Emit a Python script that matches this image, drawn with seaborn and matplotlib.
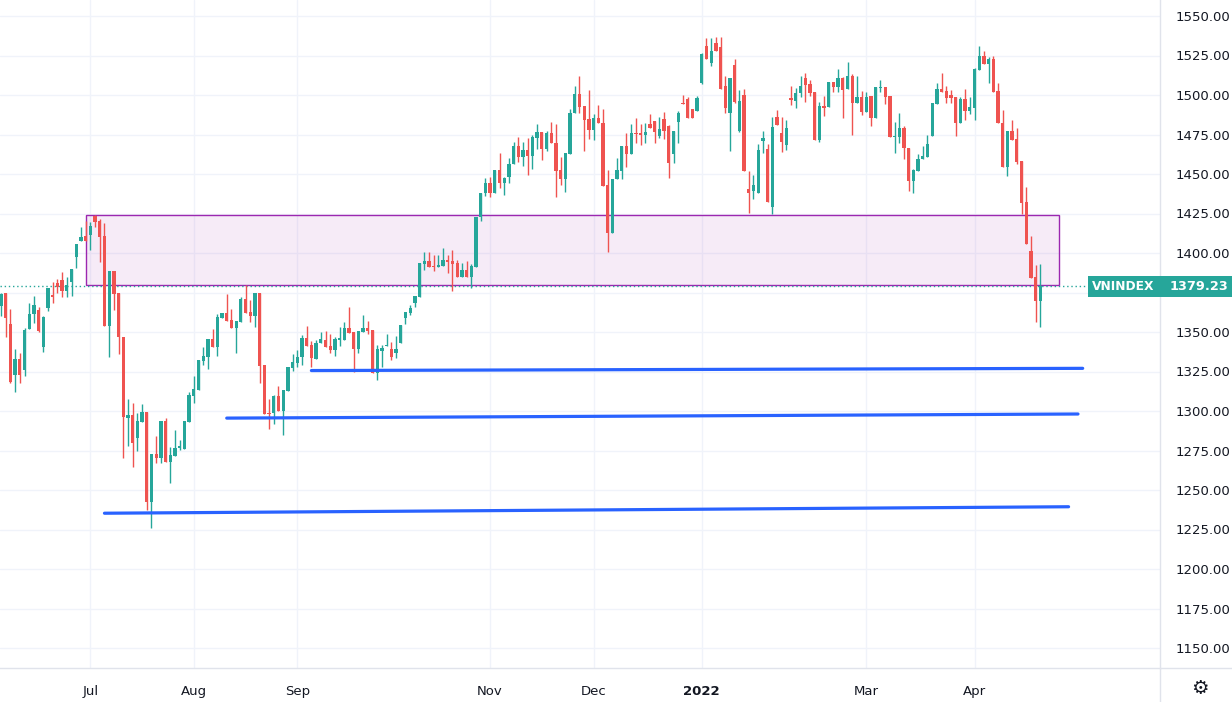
import numpy as np
import pandas as pd
import matplotlib
matplotlib.use("Agg")
import matplotlib.pyplot as plt
import seaborn as sns
from matplotlib.patches import Rectangle

# ---------------- data ----------------
opens = [1366.4, 1374.4, 1355.0, 1323.0, 1332.9, 1325.9, 1352.1, 1361.1, 1363.9, 1340.7,
         1365.4, 1373.4, 1380.8, 1382.9, 1376.1, 1381.8, 1397.6, 1407.6, 1410.7, 1411.6,
         1423.4, 1420.4, 1410.7, 1354.0, 1388.6, 1374.6, 1347.0, 1295.3, 1297.4, 1282.7,
         1293.2, 1299.3, 1242.6, 1272.8, 1270.0, 1293.6, 1268.0, 1271.5, 1276.3, 1276.0,
         1293.2, 1309.7, 1313.3, 1331.9, 1334.4, 1345.6, 1340.7, 1359.0, 1362.2, 1357.6,
         1352.7, 1356.5, 1370.9, 1362.4, 1360.3, 1374.5, 1329.1, 1299.0, 1298.5, 1309.5,
         1300.2, 1312.9, 1327.4, 1330.6, 1333.9, 1346.0, 1341.8, 1332.7, 1343.2, 1344.9,
         1341.1, 1338.6, 1344.9, 1344.9, 1352.3, 1350.0, 1339.5, 1350.2, 1352.7, 1351.3,
         1324.3, 1338.2, 1341.1, 1339.2, 1336.9, 1343.2, 1358.7, 1361.8, 1368.1, 1372.4,
         1393.1, 1394.9, 1391.8, 1391.3, 1391.8, 1395.6, 1395.1, 1393.9, 1384.6, 1389.2,
         1385.0, 1391.4, 1422.6, 1437.7, 1444.1, 1438.2, 1452.5, 1444.1, 1447.9, 1456.3,
         1467.7, 1461.0, 1465.2, 1461.4, 1473.0, 1476.8, 1465.8, 1476.2, 1469.4, 1452.5,
         1447.1, 1462.6, 1488.4, 1500.6, 1493.0, 1484.6, 1477.9, 1485.2, 1482.1, 1443.0,
         1412.9, 1446.8, 1452.1, 1467.7, 1462.7, 1476.1, 1475.7, 1474.7, 1481.6, 1483.5,
         1474.2, 1484.6, 1480.4, 1462.4, 1483.1, 1495.1, 1497.5, 1491.1, 1490.1, 1507.8,
         1531.0, 1520.0, 1533.1, 1530.6, 1505.7, 1488.8, 1519.0, 1477.4, 1500.0, 1440.3,
         1439.4, 1438.2, 1471.1, 1465.8, 1429.3, 1485.9, 1476.2, 1468.4, 1497.9, 1496.4,
         1501.1, 1510.5, 1507.0, 1501.7, 1471.5, 1493.0, 1492.2, 1508.0, 1504.9, 1510.5,
         1503.6, 1512.0, 1494.7, 1498.5, 1489.5, 1499.4, 1485.2, 1504.7, 1504.9, 1499.4,
         1473.2, 1473.2, 1478.9, 1466.2, 1445.8, 1452.1, 1459.3, 1461.0, 1474.0, 1494.3,
         1503.6, 1502.5, 1500.0, 1498.5, 1482.5, 1497.2, 1490.1, 1492.0, 1515.8, 1524.7,
         1519.6, 1522.8, 1502.5, 1482.5, 1454.6, 1477.4, 1472.1, 1458.2, 1432.3, 1401.3,
         1384.6, 1369.8]
highs = [1374.5, 1374.9, 1364.5, 1339.2, 1336.5, 1352.7, 1368.1, 1372.7, 1366.0, 1360.0,
         1378.0, 1381.8, 1383.3, 1387.9, 1384.6, 1389.8, 1405.7, 1416.6, 1420.4, 1419.8,
         1424.0, 1421.5, 1418.7, 1388.6, 1388.6, 1374.6, 1347.0, 1307.6, 1304.8, 1298.5,
         1304.4, 1299.3, 1272.8, 1284.2, 1293.6, 1295.3, 1277.4, 1288.0, 1281.6, 1293.7,
         1312.2, 1322.1, 1332.3, 1340.7, 1345.6, 1351.9, 1361.4, 1362.2, 1374.0, 1364.3,
         1357.2, 1372.4, 1379.7, 1370.3, 1374.5, 1374.5, 1329.1, 1307.6, 1310.1, 1315.8,
         1313.3, 1328.1, 1335.9, 1338.6, 1348.1, 1353.8, 1344.3, 1344.9, 1350.0, 1350.6,
         1348.7, 1347.0, 1353.0, 1356.5, 1365.6, 1350.0, 1350.6, 1360.8, 1357.0, 1351.3,
         1341.8, 1341.8, 1348.7, 1343.5, 1347.5, 1354.4, 1362.5, 1367.1, 1372.8, 1393.9,
         1400.8, 1400.8, 1398.7, 1398.7, 1403.0, 1398.7, 1401.9, 1395.6, 1393.9, 1395.1,
         1393.0, 1422.6, 1437.7, 1447.7, 1448.3, 1452.5, 1463.1, 1448.3, 1459.9, 1470.5,
         1473.6, 1470.5, 1472.6, 1474.7, 1481.6, 1476.8, 1477.2, 1483.1, 1481.6, 1460.5,
         1463.1, 1490.9, 1505.7, 1512.0, 1493.0, 1503.2, 1488.0, 1493.7, 1490.9, 1452.5,
         1446.8, 1459.9, 1467.7, 1475.7, 1481.6, 1485.2, 1481.6, 1482.0, 1488.0, 1483.5,
         1485.9, 1489.0, 1481.0, 1477.2, 1489.9, 1500.0, 1499.0, 1491.1, 1499.4, 1526.8,
         1535.9, 1535.9, 1536.5, 1536.9, 1512.0, 1510.5, 1522.6, 1503.2, 1503.6, 1452.1,
         1449.4, 1469.0, 1477.2, 1469.0, 1485.9, 1490.5, 1486.3, 1484.2, 1505.7, 1504.2,
         1512.0, 1514.1, 1509.5, 1501.7, 1495.8, 1499.4, 1508.0, 1508.0, 1516.2, 1511.6,
         1521.1, 1513.3, 1512.0, 1502.5, 1501.7, 1499.4, 1504.9, 1509.5, 1504.9, 1499.4,
         1483.1, 1488.8, 1480.4, 1466.2, 1453.0, 1462.6, 1467.7, 1474.7, 1494.7, 1507.8,
         1514.1, 1505.7, 1503.2, 1498.5, 1498.5, 1503.6, 1498.5, 1517.3, 1531.0, 1527.8,
         1523.8, 1524.7, 1507.8, 1490.5, 1477.4, 1484.2, 1479.3, 1458.2, 1442.0, 1410.8,
         1392.4, 1393.0]
lows = [1360.0, 1347.0, 1318.0, 1312.2, 1317.5, 1322.3, 1352.0, 1355.4, 1350.0, 1337.5,
        1363.5, 1368.1, 1374.9, 1372.3, 1372.3, 1373.0, 1390.7, 1407.6, 1407.8, 1401.9,
        1416.2, 1394.5, 1354.0, 1334.3, 1363.9, 1335.8, 1270.0, 1278.0, 1264.7, 1274.8,
        1293.2, 1237.3, 1225.7, 1266.8, 1266.8, 1268.0, 1254.6, 1271.5, 1275.3, 1276.0,
        1293.2, 1304.9, 1313.3, 1329.1, 1326.8, 1340.7, 1334.8, 1359.0, 1357.2, 1352.7,
        1336.9, 1356.5, 1362.2, 1356.1, 1353.0, 1317.5, 1298.1, 1288.6, 1291.8, 1300.2,
        1285.0, 1312.9, 1325.5, 1328.0, 1329.1, 1341.1, 1328.0, 1332.7, 1343.2, 1340.7,
        1336.9, 1334.8, 1341.1, 1344.9, 1349.1, 1325.0, 1337.0, 1350.2, 1348.5, 1324.3,
        1319.6, 1328.1, 1341.1, 1332.3, 1333.3, 1343.2, 1355.0, 1360.8, 1366.0, 1372.4,
        1389.2, 1391.4, 1388.8, 1390.9, 1391.8, 1387.1, 1376.2, 1384.6, 1384.6, 1385.0,
        1377.6, 1391.4, 1420.5, 1436.1, 1435.7, 1438.2, 1440.9, 1436.7, 1444.5, 1456.3,
        1457.8, 1455.1, 1449.4, 1453.4, 1465.6, 1458.9, 1464.8, 1469.4, 1435.2, 1443.0,
        1438.8, 1462.6, 1488.4, 1488.8, 1464.8, 1472.0, 1471.5, 1482.1, 1442.6, 1400.8,
        1412.9, 1446.8, 1446.6, 1454.2, 1462.7, 1469.4, 1468.4, 1469.4, 1479.3, 1469.4,
        1472.6, 1471.9, 1447.3, 1456.7, 1469.8, 1494.1, 1485.7, 1485.2, 1490.1, 1507.0,
        1522.6, 1518.4, 1528.1, 1503.6, 1488.8, 1464.8, 1495.2, 1476.8, 1452.1, 1425.1,
        1434.0, 1438.2, 1463.5, 1432.5, 1424.7, 1481.0, 1464.1, 1465.2, 1493.7, 1492.0,
        1498.5, 1495.8, 1499.4, 1471.5, 1470.5, 1486.7, 1492.2, 1501.7, 1501.7, 1485.2,
        1503.6, 1474.7, 1494.7, 1487.3, 1489.5, 1480.4, 1485.2, 1501.7, 1494.1, 1473.2,
        1463.1, 1469.4, 1459.3, 1439.4, 1437.8, 1452.1, 1459.3, 1461.0, 1474.0, 1494.3,
        1502.1, 1495.1, 1494.7, 1474.0, 1482.5, 1484.2, 1488.0, 1484.2, 1515.8, 1519.6,
        1507.8, 1502.1, 1482.1, 1454.6, 1448.7, 1471.5, 1456.3, 1424.7, 1405.7, 1384.4,
        1356.5, 1352.9]
closes = [1374.0, 1358.6, 1318.5, 1332.9, 1323.0, 1351.2, 1361.4, 1367.1, 1350.8, 1359.7,
          1377.8, 1372.3, 1378.7, 1376.1, 1379.7, 1389.8, 1405.7, 1409.9, 1407.8, 1417.0,
          1419.8, 1410.3, 1354.0, 1388.6, 1374.2, 1346.6, 1296.0, 1297.4, 1279.5, 1293.8,
          1299.3, 1242.6, 1272.8, 1270.0, 1293.6, 1268.0, 1272.1, 1276.3, 1278.0, 1293.7,
          1310.1, 1313.9, 1332.3, 1334.8, 1345.6, 1340.7, 1359.7, 1362.2, 1357.2, 1352.7,
          1357.2, 1370.9, 1362.2, 1360.3, 1374.5, 1328.5, 1298.1, 1298.1, 1309.5, 1300.2,
          1313.3, 1328.1, 1331.2, 1333.9, 1346.0, 1341.1, 1333.3, 1343.2, 1345.4, 1340.7,
          1338.6, 1345.6, 1345.9, 1352.3, 1349.1, 1339.5, 1350.6, 1352.3, 1350.9, 1324.3,
          1339.0, 1339.7, 1341.8, 1334.4, 1339.0, 1354.4, 1362.5, 1365.4, 1372.8, 1393.9,
          1394.9, 1391.4, 1391.4, 1392.4, 1395.6, 1394.5, 1393.0, 1384.6, 1389.2, 1385.0,
          1391.8, 1422.6, 1437.7, 1444.1, 1438.2, 1452.5, 1444.1, 1447.7, 1456.3, 1467.7,
          1461.0, 1465.2, 1461.4, 1473.2, 1476.8, 1465.8, 1476.2, 1469.4, 1452.1, 1447.1,
          1463.1, 1488.4, 1500.6, 1492.6, 1484.2, 1477.9, 1485.2, 1482.1, 1442.6, 1412.9,
          1446.8, 1452.5, 1467.7, 1462.7, 1475.7, 1475.3, 1474.7, 1476.8, 1479.3, 1476.8,
          1478.3, 1477.4, 1456.7, 1477.2, 1488.8, 1494.1, 1485.7, 1485.2, 1497.9, 1525.9,
          1522.6, 1528.1, 1528.1, 1503.6, 1492.0, 1510.5, 1495.8, 1496.2, 1452.1, 1438.2,
          1443.0, 1465.2, 1472.9, 1432.5, 1479.5, 1481.0, 1470.5, 1478.9, 1496.8, 1501.5,
          1505.7, 1506.3, 1501.5, 1471.5, 1493.0, 1492.0, 1508.0, 1504.9, 1510.5, 1503.2,
          1512.0, 1494.7, 1498.5, 1489.5, 1498.5, 1485.2, 1504.9, 1505.3, 1498.9, 1473.2,
          1473.6, 1478.9, 1466.2, 1445.8, 1452.5, 1459.7, 1461.4, 1469.0, 1494.7, 1503.6,
          1502.1, 1497.9, 1498.3, 1482.5, 1497.2, 1490.1, 1492.2, 1516.2, 1524.7, 1519.6,
          1522.8, 1502.1, 1482.1, 1454.6, 1477.4, 1471.5, 1457.8, 1431.9, 1405.7, 1384.4,
          1369.8, 1379.23]

symbol = "VNINDEX"
last_price = 1379.23
month_labels = ["Jul", "Aug", "Sep", "Nov", "Dec", "2022", "Mar", "Apr"]
month_bars = [19, 41, 63, 104, 126, 149, 184, 207]
price_ticks = [1150, 1175, 1200, 1225, 1250, 1275, 1300, 1325, 1350, 1375,
               1400, 1425, 1450, 1475, 1500, 1525, 1550]
hidden_tick = 1375  # covered by the last-price label in the reference

zone_bars = [18, 225]
zone_prices = [1380.0, 1424.0]

support_start_bar = [66, 48, 22]
support_end_bar = [230, 229, 227]
support_start_price = [1325.6, 1295.5, 1235.3]
support_end_price = [1327.0, 1298.1, 1239.4]

# ---------------- style ----------------
UP = "#26a69a"
DOWN = "#ef5350"
GRID = "#f0f3fa"
SEP = "#e0e3eb"
TEXT = "#131722"

sns.set_theme(style="white")
plt.rcParams["font.family"] = ["DejaVu Sans"]

W, H = 1232, 702
fig = plt.figure(figsize=(W / 100, H / 100), dpi=100)
fig.patch.set_facecolor("white")
ax = fig.add_axes([0, 34 / H, 1160 / W, 668 / H])
ax.set_facecolor("white")

df = pd.DataFrame({"open": opens, "high": highs, "low": lows, "close": closes})
df["bar"] = np.arange(len(df))
df["up"] = df["close"] >= df["open"]
df["color"] = np.where(df["up"], UP, DOWN)
df["body_low"] = df[["open", "close"]].min(axis=1)
df["body_h"] = (df["close"] - df["open"]).abs().clip(lower=0.6)

# zone rectangle
ax.add_patch(Rectangle((zone_bars[0], zone_prices[0]), zone_bars[1] - zone_bars[0],
                       zone_prices[1] - zone_prices[0],
                       facecolor=(156 / 255, 39 / 255, 176 / 255, 0.09),
                       edgecolor="#9c27b0", lw=1.0, zorder=1))

# candles
ax.vlines(df["bar"], df["low"], df["high"], colors=df["color"], lw=1.0, zorder=3)
ax.bar(df["bar"], df["body_h"], bottom=df["body_low"], width=0.7,
       color=df["color"], edgecolor="none", zorder=4)

# support lines via seaborn
sup = pd.DataFrame({
    "bar": support_start_bar + support_end_bar,
    "price": support_start_price + support_end_price,
    "line": list(range(3)) + list(range(3)),
})
sns.lineplot(data=sup, x="bar", y="price", units="line", estimator=None,
             color="#2962ff", lw=2.3, ax=ax, zorder=5, legend=False)

# last price dotted line
ax.axhline(last_price, color=UP, ls=(0, (1, 2)), lw=1.0, zorder=2)

# axes limits
px_per_bar = 4.703
ax.set_xlim(-1 / px_per_bar, (1160 - 1) / px_per_bar)
ax.set_ylim(1550 - 652 / 1.58, 1550 + 16 / 1.58)

# grid
for b in month_bars:
    ax.axvline(b, color=GRID, lw=1, zorder=0)
for p in price_ticks:
    ax.axhline(p, color=GRID, lw=1, zorder=0)

ax.set_xlabel("")
ax.set_ylabel("")
ax.yaxis.tick_right()
ax.set_yticks(price_ticks)
ax.set_yticklabels(["" if p == hidden_tick else f"{p:.2f}" for p in price_ticks])
ax.tick_params(axis="y", length=0, pad=11, labelsize=9.5, labelcolor=TEXT)
ax.set_xticks(month_bars)
ax.set_xticklabels(month_labels)
ax.tick_params(axis="x", length=0, pad=12, labelsize=9.5, labelcolor=TEXT)
for lab in ax.get_xticklabels():
    if lab.get_text() == "2022":
        lab.set_fontweight("bold")

for s in ["top", "left"]:
    ax.spines[s].set_visible(False)
for s in ["right", "bottom"]:
    ax.spines[s].set_color(SEP)
    ax.spines[s].set_linewidth(1)

# separators extended in figure space
fig.add_artist(plt.Line2D([1160 / W, 1.0], [34 / H, 34 / H], color=SEP, lw=1))
fig.add_artist(plt.Line2D([1160 / W, 1160 / W], [0, 34 / H], color=SEP, lw=1))

# last price label box
fig.add_artist(Rectangle((1088 / W, (H - 297) / H), 144 / W, 21 / H,
                         facecolor=UP, edgecolor="none", zorder=10,
                         transform=fig.transFigure))
fig.text(1123 / W, (H - 286.5) / H, symbol, color="white", fontsize=8.8,
         fontweight="semibold", ha="center", va="center", zorder=11)
fig.text(1199 / W, (H - 286.5) / H, f"{last_price:.2f}", color="white", fontsize=9.3,
         fontweight="semibold", ha="center", va="center", zorder=11)

# settings gear
fig.text(1200 / W, (H - 688) / H, "\u2699", color=TEXT, fontsize=14,
         ha="center", va="center")

fig.savefig("out.png", dpi=100, facecolor="white")
